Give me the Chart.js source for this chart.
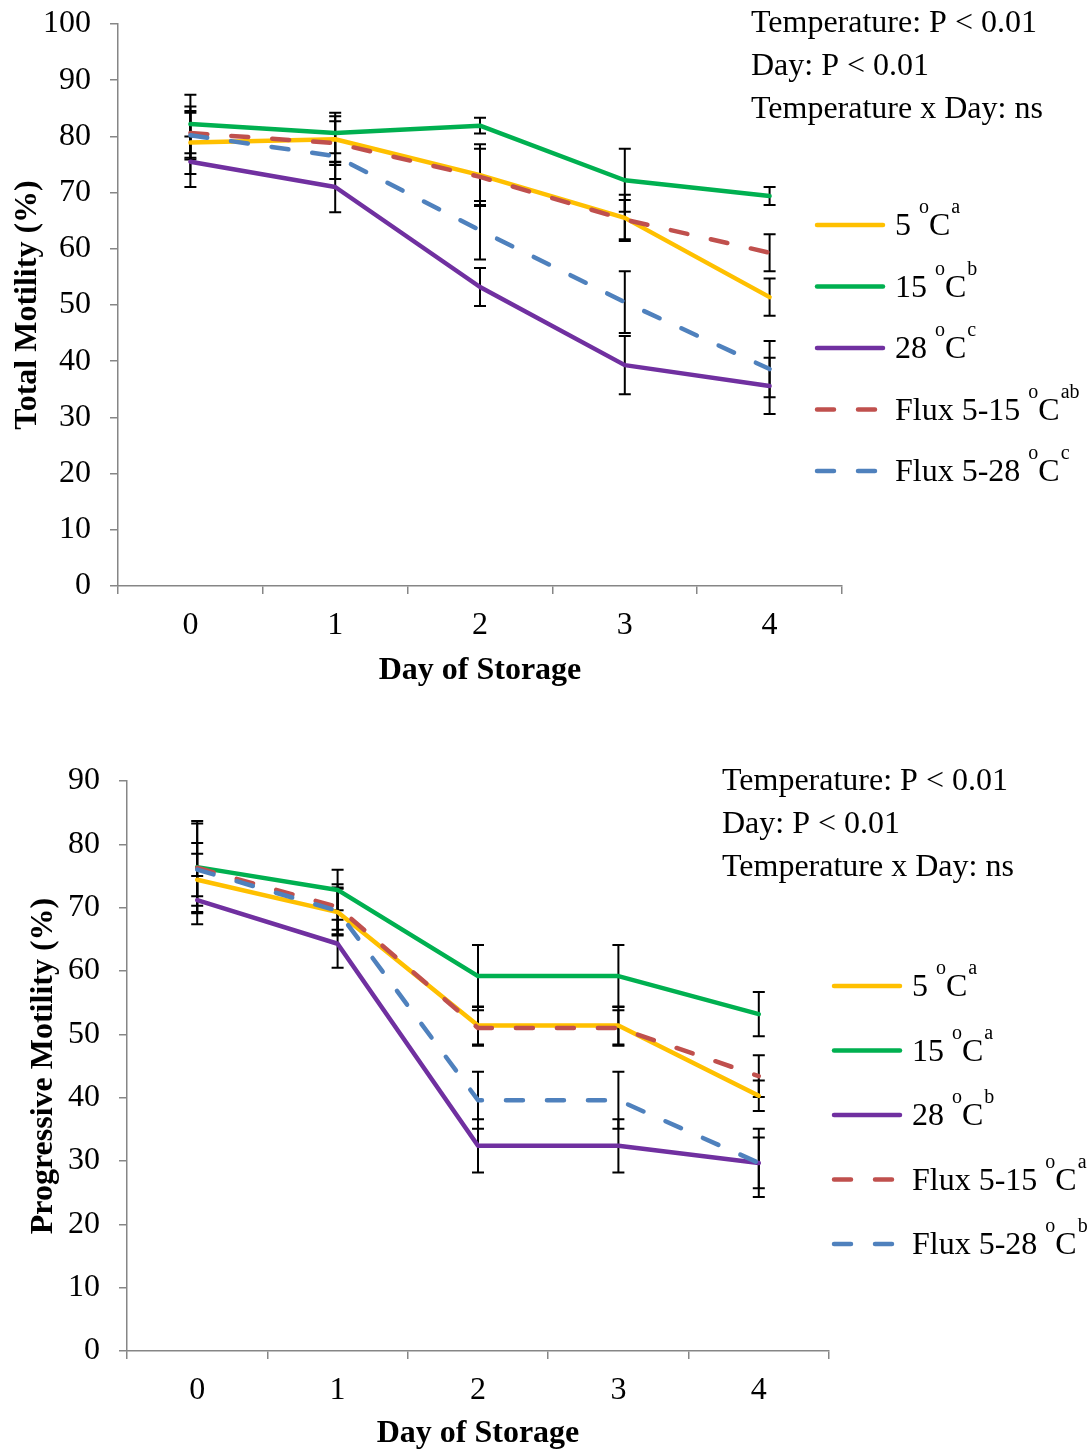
<!DOCTYPE html>
<html>
<head>
<meta charset="utf-8">
<script src="https://cdn.jsdelivr.net/npm/chart.js@4.4.0/dist/chart.umd.min.js"></script>
<style>
  body { margin: 0; background: #fff; overflow: hidden; }
  .wrap { position: absolute; left: 0; }
</style>
</head>
<body>
<div class="wrap" style="top:0"><canvas id="totalChart" width="1091" height="700"></canvas></div>
<div class="wrap" style="top:720px"><canvas id="progChart" width="1091" height="730"></canvas></div>
<script>
const days = ['0', '1', '2', '3', '4'];
const seriesNames = ['5', '15', '28', 'Flux 5-15', 'Flux 5-28'];
const statLines = ['Temperature: P < 0.01', 'Day: P < 0.01', 'Temperature x Day: ns'];

// total motility (%)
const tm5 = [78.9, 79.5, 73.1, 65.5, 51.4];
const tm15 = [82.2, 80.6, 81.9, 72.2, 69.4];
const tm28 = [75.5, 71.0, 53.2, 39.3, 35.6];
const tmFlux15 = [80.6, 78.8, 72.8, 65.2, 59.3];
const tmFlux28 = [80.2, 76.5, 63.3, 50.5, 38.6];
const tm5Err = [5.6, 4.1, 5.5, 4.1, 3.3];
const tm15Err = [5.2, 3.6, 1.4, 5.6, 1.6];
const tm28Err = [4.5, 4.5, 3.4, 5.2, 5.0];
const tmFlux15Err = [4.7, 3.9, 5.0, 3.5, 3.3];
const tmFlux28Err = [4.0, 4.1, 5.2, 5.5, 5.0];
const tmLetters = ['a', 'b', 'c', 'ab', 'c'];

// progressive motility (%)
const pm5 = [74.4, 69.3, 51.4, 51.4, 40.3];
const pm15 = [76.4, 72.8, 59.2, 59.2, 53.2];
const pm28 = [71.2, 64.3, 32.4, 32.4, 29.7];
const pmFlux15 = [76.3, 70.1, 51.0, 51.0, 43.4];
const pmFlux28 = [76.0, 69.5, 39.6, 39.6, 29.7];
const pm5Err = [4.1, 3.7, 3.0, 3.0, 2.4];
const pm15Err = [7.3, 3.2, 4.9, 4.9, 3.5];
const pm28Err = [3.8, 3.8, 4.2, 4.2, 5.4];
const pmFlux15Err = [7.0, 3.6, 2.8, 2.8, 3.3];
const pmFlux28Err = [4.2, 3.7, 4.5, 4.5, 4.0];
const pmLetters = ['a', 'a', 'b', 'a', 'b'];

const colors = ['#FFC000', '#00B050', '#7030A0', '#C0504D', '#4F81BD'];
const dashes = [[], [], [], [17, 24], [17, 24]];
const serif = 'Liberation Serif';
const axisGray = '#868686';

const errorBarPlugin = {
    id: 'errorBars',
    beforeDatasetsDraw(chart) {
        const {ctx, scales: {x, y}} = chart;
        ctx.save();
        ctx.strokeStyle = '#000';
        ctx.lineWidth = 2;
        chart.data.datasets.forEach(ds => {
            ds.errorBars.forEach((e, i) => {
                const px = x.getPixelForValue(i);
                const top = y.getPixelForValue(ds.data[i] + e);
                const bot = y.getPixelForValue(ds.data[i] - e);
                ctx.beginPath();
                ctx.moveTo(px, top); ctx.lineTo(px, bot);
                ctx.moveTo(px - 6, top); ctx.lineTo(px + 6, top);
                ctx.moveTo(px - 6, bot); ctx.lineTo(px + 6, bot);
                ctx.stroke();
            });
        });
        ctx.restore();
    }
};

// legend with superscripts + stats text, drawn on the canvas
const sideTextPlugin = {
    id: 'sideText',
    afterDraw(chart, args, opts) {
        const ctx = chart.ctx;
        ctx.save();
        ctx.fillStyle = '#000';
        ctx.font = `32px "${serif}"`;
        ctx.textBaseline = 'middle';
        statLines.forEach((t, i) => ctx.fillText(t, opts.statsX, opts.statsTop + i * 43));

        chart.data.datasets.forEach((ds, i) => {
            const y = opts.legendTop + i * opts.legendGap;
            ctx.strokeStyle = ds.borderColor;
            ctx.lineWidth = 4.5;
            ctx.lineCap = 'round';
            ctx.setLineDash(ds.borderDash);
            ctx.beginPath();
            ctx.moveTo(opts.legendX + 2, y);
            ctx.lineTo(opts.legendX + 68, y);
            ctx.stroke();
            ctx.setLineDash([]);

            const base = y + 10;
            let cx = opts.legendX + 80;
            ctx.textBaseline = 'alphabetic';
            ctx.font = `32px "${serif}"`;
            ctx.fillText(ds.label + ' ', cx, base);
            cx += ctx.measureText(ds.label + ' ').width;
            ctx.font = `20px "${serif}"`;
            ctx.fillText('o', cx, base - 22);
            cx += ctx.measureText('o').width;
            ctx.font = `32px "${serif}"`;
            ctx.fillText('C', cx, base);
            cx += ctx.measureText('C').width + 1;
            ctx.font = `20px "${serif}"`;
            ctx.fillText(opts.letters[i], cx, base - 22);
        });
        ctx.restore();
    }
};

function makeChart(id, values, errors, letters, yMax, yTitle, area, side) {
    const canvas = document.getElementById(id);
    const H = canvas.height, W = canvas.width;
    return new Chart(canvas, {
        type: 'line',
        data: {
            labels: days,
            datasets: values.map((v, i) => ({
                label: seriesNames[i],
                data: v,
                errorBars: errors[i],
                borderColor: colors[i],
                borderWidth: 4.5,
                borderDash: dashes[i],
                borderCapStyle: 'round',
                borderJoinStyle: 'round',
                pointRadius: 0,
                tension: 0,
                fill: false,
                order: 5 - i
            }))
        },
        options: {
            responsive: false,
            animation: false,
            layout: { padding: { left: 0, top: area.top, right: W - area.right, bottom: 0 } },
            plugins: {
                legend: { display: false },
                tooltip: { enabled: false },
                sideText: Object.assign({ letters }, side)
            },
            scales: {
                x: {
                    offset: true,
                    border: { color: axisGray, width: 1.5 },
                    grid: { offset: true, drawOnChartArea: false, drawTicks: true, tickLength: 8, color: axisGray, lineWidth: 1.5 },
                    ticks: { color: '#000', padding: 12, maxRotation: 0, font: { family: serif, size: 32 } },
                    title: { display: true, text: 'Day of Storage', color: '#000', padding: { top: 0, bottom: area.xTitlePad }, font: { family: serif, size: 32, weight: 'bold' } },
                    afterFit: s => { s.height = H - area.bottom; }
                },
                y: {
                    min: 0,
                    max: yMax,
                    border: { color: axisGray, width: 1.5 },
                    grid: { drawOnChartArea: false, drawTicks: true, tickLength: 8, color: axisGray, lineWidth: 1.5 },
                    ticks: { stepSize: 10, color: '#000', padding: 19, font: { family: serif, size: 32 } },
                    title: { display: true, text: yTitle, color: '#000', padding: { top: area.yTitlePad, bottom: 0 }, font: { family: serif, size: 32, weight: 'bold' } },
                    afterFit: s => { s.width = area.left; s.paddingTop = 0; s.paddingBottom = 0; }
                }
            }
        },
        plugins: [errorBarPlugin, sideTextPlugin]
    });
}

makeChart('totalChart',
    [tm5, tm15, tm28, tmFlux15, tmFlux28],
    [tm5Err, tm15Err, tm28Err, tmFlux15Err, tmFlux28Err],
    tmLetters, 100, 'Total Motility (%)',
    { left: 118, right: 842, top: 24, bottom: 586, yTitlePad: 9, xTitlePad: 10 },
    { statsX: 751, statsTop: 24, legendX: 815, legendTop: 225, legendGap: 61.5 });

makeChart('progChart',
    [pm5, pm15, pm28, pmFlux15, pmFlux28],
    [pm5Err, pm15Err, pm28Err, pmFlux15Err, pmFlux28Err],
    pmLetters, 90, 'Progressive Motility (%)',
    { left: 127, right: 829, top: 61, bottom: 631, yTitlePad: 25, xTitlePad: -3 },
    { statsX: 722, statsTop: 62, legendX: 832, legendTop: 266, legendGap: 64.5 });
</script>
</body>
</html>
